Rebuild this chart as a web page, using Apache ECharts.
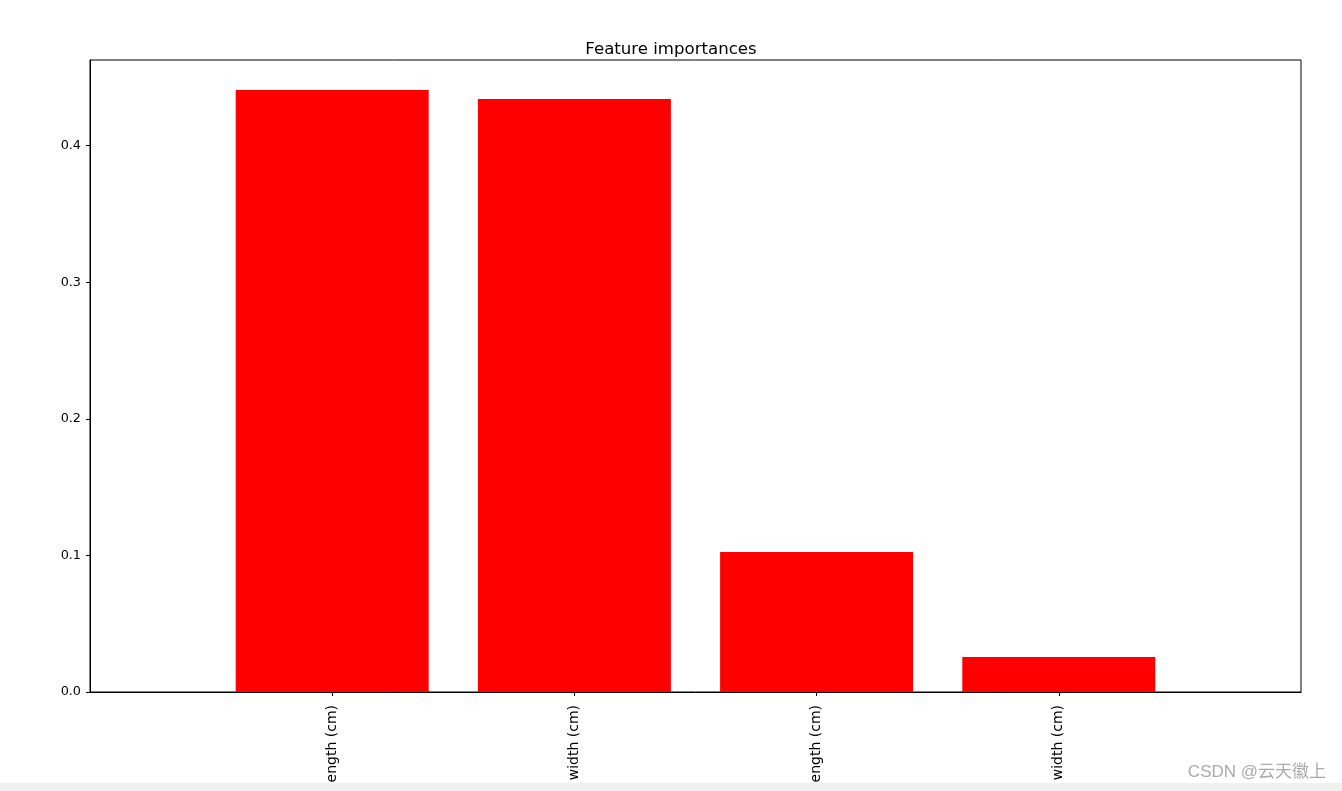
<!DOCTYPE html>
<html>
<head>
<meta charset="utf-8">
<script src="https://cdn.jsdelivr.net/npm/echarts@6/dist/echarts.min.js"></script>
<style>
html,body{margin:0;padding:0;background:#f0f0f0;overflow:hidden;}
#chart{width:1342px;height:783px;background:#ffffff;}
</style>
</head>
<body>
<div id="chart"></div>
<script>
var categories = ['', 'petal length (cm)', 'petal width (cm)', 'sepal length (cm)', 'sepal width (cm)', ''];
var importances = [null, 0.4407, 0.4341, 0.1025, 0.0256, null];
var yTicks = [0, 0.1, 0.2, 0.3, 0.4];
var yMax = 0.4627;

var chart = echarts.init(document.getElementById('chart'), null, {renderer: 'canvas'});
var font = 'DejaVu Sans';
chart.setOption({
  animation: false,
  backgroundColor: '#ffffff',
  title: {
    text: 'Feature importances',
    left: 'center',
    top: 36,
    textStyle: {fontFamily: font, fontSize: 16.6, fontWeight: 'normal', color: '#000'}
  },
  grid: {
    left: 90, right: 41, top: 60, bottom: 91,
    containLabel: false,
    outerBoundsMode: 'none',
    show: true, borderColor: '#000', borderWidth: 1, backgroundColor: 'transparent'
  },
  xAxis: {
    type: 'category',
    data: categories,
    boundaryGap: false,
    axisLine: {show: true, lineStyle: {color: '#000', width: 1}},
    axisTick: {
      show: true, length: 4, lineStyle: {color: '#000'},
      interval: function (idx, val) { return val !== ''; }
    },
    axisLabel: {
      rotate: 90, interval: 0, margin: 13,
      fontFamily: font, fontSize: 14, color: '#000'
    },
    splitLine: {show: false}
  },
  yAxis: {
    type: 'value',
    min: 0,
    max: yMax,
    axisLine: {show: true, lineStyle: {color: '#000', width: 1}},
    axisTick: {show: true, length: 4, lineStyle: {color: '#000'}, customValues: yTicks},
    axisLabel: {
      customValues: yTicks,
      formatter: function (v) { return v.toFixed(1); },
      fontFamily: font, fontSize: 12.8, color: '#000', margin: 9
    },
    splitLine: {show: false}
  },
  series: [{
    type: 'bar',
    data: importances,
    barWidth: 193,
    itemStyle: {color: '#ff0000'}
  }],
  graphic: [{
    type: 'text',
    right: 16,
    top: 764,
    style: {
      text: 'CSDN @云天徽上',
      font: '17px "Liberation Sans", "Noto Sans CJK SC", sans-serif',
      fill: '#aaaaaa'
    },
    z: 100
  }]
});
</script>
</body>
</html>
